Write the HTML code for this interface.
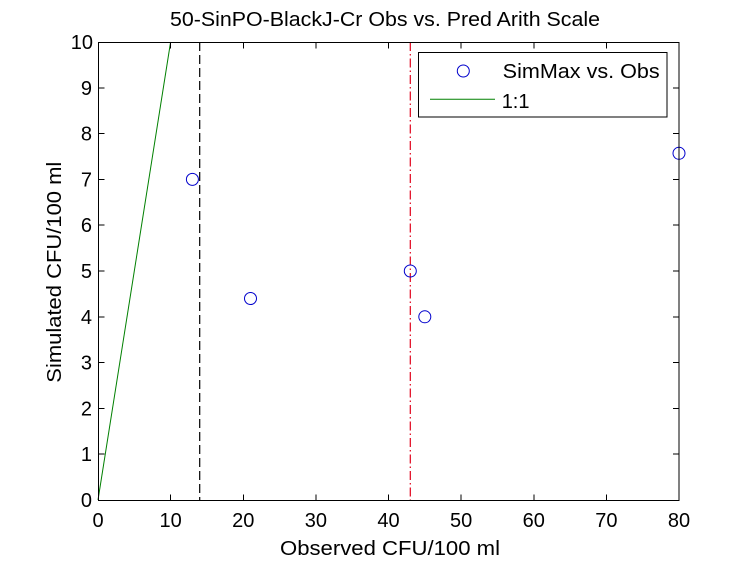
<!DOCTYPE html>
<html><head><meta charset="utf-8"><style>
html,body{margin:0;padding:0;background:#fff;}
svg{display:block;}
text{font-family:"Liberation Sans",Arial,sans-serif;fill:#000;}
</style></head><body>
<svg width="750" height="563" viewBox="0 0 750 563" xmlns="http://www.w3.org/2000/svg">
<rect x="0" y="0" width="750" height="563" fill="#fff"/>
<!-- title -->
<text x="170" y="26" font-size="20" textLength="430" lengthAdjust="spacingAndGlyphs">50-SinPO-BlackJ-Cr Obs vs. Pred Arith Scale</text>
<!-- plot area -->
<rect x="98.5" y="42.5" width="580.5" height="458" fill="#fff" stroke="none"/>
<!-- series -->
<line x1="98" y1="500" x2="170.6" y2="42" stroke="#008000" stroke-width="1"/>
<line x1="199.7" y1="42" x2="199.7" y2="500" stroke="#000" stroke-width="1.2" stroke-dasharray="9,4"/>
<line x1="410.3" y1="42" x2="410.3" y2="500" stroke="#e0001a" stroke-width="1.2" stroke-dasharray="9,3,1.5,3"/>
<g fill="none" stroke="#0000cc" stroke-width="1">
<circle cx="192.4" cy="179.4" r="6"/>
<circle cx="250.5" cy="298.5" r="6"/>
<circle cx="410.3" cy="271" r="6"/>
<circle cx="424.8" cy="316.8" r="6"/>
<circle cx="679" cy="153.3" r="6"/>
</g>
<!-- axes box -->
<g stroke="#000" stroke-width="1" shape-rendering="crispEdges" fill="none">
<rect x="98.5" y="42.5" width="580.5" height="458"/>
<!-- x ticks bottom & top -->
<path d="M170.6 500.5v-6M243.3 500.5v-6M315.9 500.5v-6M388.5 500.5v-6M461.1 500.5v-6M533.8 500.5v-6M606.4 500.5v-6
M170.6 42.5v6M243.3 42.5v6M315.9 42.5v6M388.5 42.5v6M461.1 42.5v6M533.8 42.5v6M606.4 42.5v6"/>
<!-- y ticks left & right -->
<path d="M98.5 454.2h6M98.5 408.4h6M98.5 362.6h6M98.5 316.8h6M98.5 271h6M98.5 225.2h6M98.5 179.4h6M98.5 133.6h6M98.5 87.8h6
M679 454.2h-6M679 408.4h-6M679 362.6h-6M679 316.8h-6M679 271h-6M679 225.2h-6M679 179.4h-6M679 133.6h-6M679 87.8h-6"/>
</g>
<!-- y tick labels -->
<g font-size="20" text-anchor="end">
<text x="92" y="507">0</text>
<text x="92" y="461.2">1</text>
<text x="92" y="415.4">2</text>
<text x="92" y="369.6">3</text>
<text x="92" y="323.8">4</text>
<text x="92" y="278">5</text>
<text x="92" y="232.2">6</text>
<text x="92" y="186.4">7</text>
<text x="92" y="140.6">8</text>
<text x="92" y="94.8">9</text>
<text x="93" y="49">10</text>
</g>
<!-- x tick labels -->
<g font-size="20" text-anchor="middle">
<text x="98" y="527">0</text>
<text x="170.6" y="527">10</text>
<text x="243.3" y="527">20</text>
<text x="315.9" y="527">30</text>
<text x="388.5" y="527">40</text>
<text x="461.1" y="527">50</text>
<text x="533.8" y="527">60</text>
<text x="606.4" y="527">70</text>
<text x="679" y="527">80</text>
</g>
<!-- axis labels -->
<text x="280" y="555" font-size="20" textLength="220" lengthAdjust="spacingAndGlyphs">Observed CFU/100 ml</text>
<text transform="translate(61,382.7) rotate(-90)" font-size="20" textLength="221" lengthAdjust="spacingAndGlyphs">Simulated CFU/100 ml</text>
<!-- legend -->
<rect x="418.5" y="52.5" width="248.5" height="64.5" fill="#fff" stroke="#000" stroke-width="1" shape-rendering="crispEdges"/>
<circle cx="463.3" cy="71" r="6" fill="none" stroke="#0000cc" stroke-width="1"/>
<text x="502.7" y="78" font-size="20" textLength="157" lengthAdjust="spacingAndGlyphs">SimMax vs. Obs</text>
<line x1="430" y1="99.3" x2="495" y2="99.3" stroke="#008000" stroke-width="1"/>
<text x="501.7" y="108" font-size="20">1:1</text>
</svg>
</body></html>
